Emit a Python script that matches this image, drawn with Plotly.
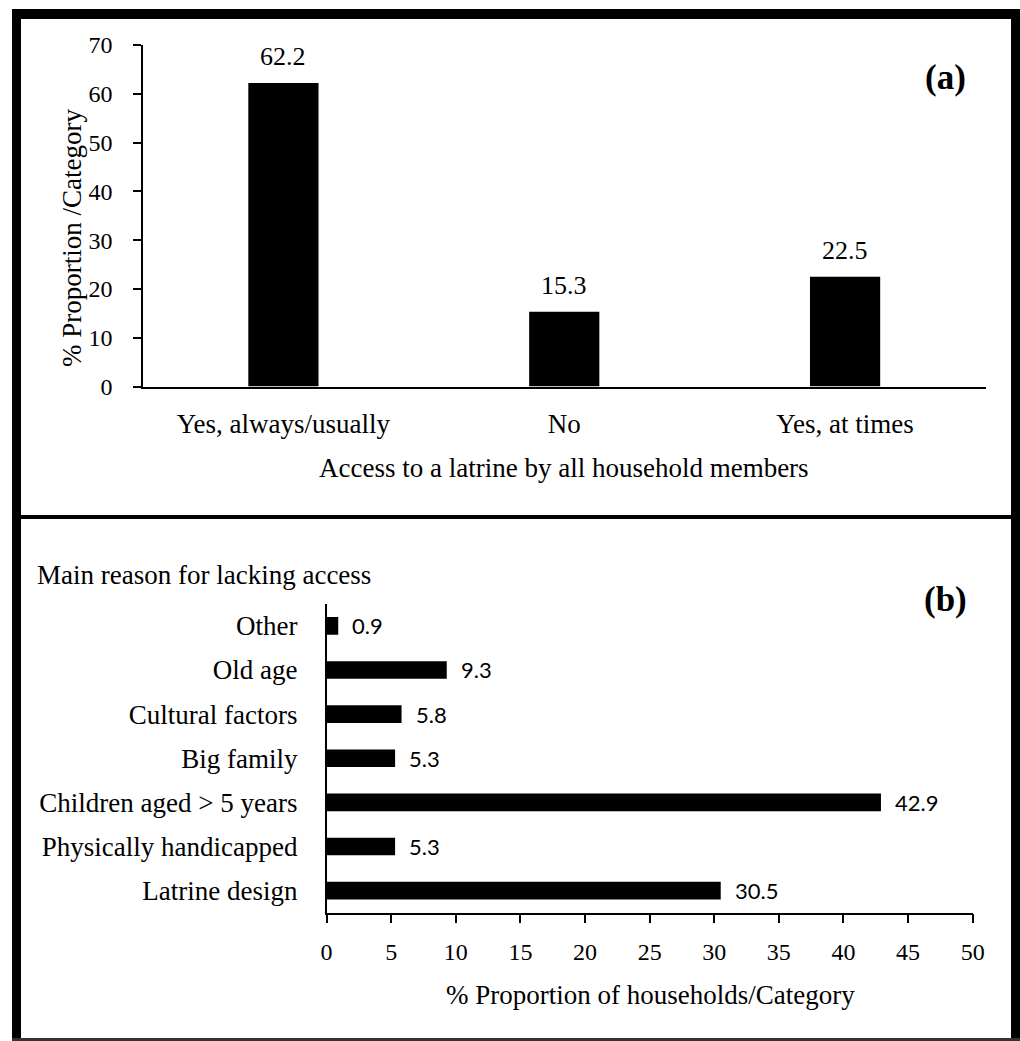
import plotly.graph_objects as go

W, H = 1020, 1041

# Panel (a) data
access_categories = ["Yes, always/usually", "No", "Yes, at times"]
access_values = [62.2, 15.3, 22.5]

# Panel (b) data (bottom to top)
reason_categories = ["Latrine design", "Physically handicapped", "Children aged > 5 years",
                     "Big family", "Cultural factors", "Old age", "Other"]
reason_values = [30.5, 5.3, 42.9, 5.3, 5.8, 9.3, 0.9]

y_ticks_a = [0, 10, 20, 30, 40, 50, 60, 70]
x_ticks_b = [0, 5, 10, 15, 20, 25, 30, 35, 40, 45, 50]

SERIF = "Liberation Serif"
SANS = "Lato"


def px(x):
    return x / W


def py(y):
    return 1 - y / H


fig = go.Figure()

fig.add_trace(go.Bar(
    x=access_categories, y=access_values, marker=dict(color="black", line=dict(width=0)),
    width=0.25, xaxis="x", yaxis="y", showlegend=False, hoverinfo="x+y"
))

fig.add_trace(go.Bar(
    x=reason_values, y=reason_categories, orientation="h",
    marker=dict(color="black", line=dict(width=0)),
    width=0.4, xaxis="x2", yaxis="y2", showlegend=False, hoverinfo="x+y"
))

annotations = []
for c, v in zip(access_categories, access_values):
    annotations.append(dict(x=c, y=v, xref="x", yref="y", text=f"{v:.1f}", showarrow=False,
                            xanchor="center", yanchor="bottom", yshift=10,
                            font=dict(family=SERIF, size=26, color="black")))
for c, v in zip(reason_categories, reason_values):
    annotations.append(dict(x=v, y=c, xref="x2", yref="y2", text=f"{v:.1f}", showarrow=False,
                            xanchor="left", yanchor="middle", xshift=12,
                            font=dict(family=SANS, size=22, color="black")))

annotations += [
    dict(x=px(72), y=py(238), xref="paper", yref="paper", text="% Proportion /Category",
         textangle=-90, showarrow=False, xanchor="center", yanchor="middle",
         font=dict(family=SERIF, size=27, color="black")),
    dict(x=px(564), y=py(468), xref="paper", yref="paper",
         text="Access to a latrine by all household members",
         showarrow=False, xanchor="center", yanchor="middle",
         font=dict(family=SERIF, size=27, color="black")),
    dict(x=px(945), y=py(77), xref="paper", yref="paper", text="<b>(a)</b>",
         showarrow=False, xanchor="center", yanchor="middle",
         font=dict(family=SERIF, size=35, color="black")),
    dict(x=px(945), y=py(599), xref="paper", yref="paper", text="<b>(b)</b>",
         showarrow=False, xanchor="center", yanchor="middle",
         font=dict(family=SERIF, size=35, color="black")),
    dict(x=px(35), y=py(575), xref="paper", yref="paper", text="Main reason for lacking access",
         xanchor="left", yanchor="middle", showarrow=False,
         font=dict(family=SERIF, size=27, color="black")),
    dict(x=px(650), y=py(995), xref="paper", yref="paper",
         text="% Proportion of households/Category",
         showarrow=False, xanchor="center", yanchor="middle",
         font=dict(family=SERIF, size=27, color="black")),
]

shapes = [
    # outer frame
    dict(type="rect", xref="paper", yref="paper", x0=px(12), x1=px(21), y0=py(1041), y1=py(9),
         fillcolor="black", line=dict(width=0)),
    dict(type="rect", xref="paper", yref="paper", x0=px(1011), x1=px(1020), y0=py(1041), y1=py(9),
         fillcolor="black", line=dict(width=0)),
    dict(type="rect", xref="paper", yref="paper", x0=px(12), x1=px(1020), y0=py(19), y1=py(9),
         fillcolor="black", line=dict(width=0)),
    dict(type="rect", xref="paper", yref="paper", x0=px(12), x1=px(1020), y0=py(1041), y1=py(1038),
         fillcolor="#333333", line=dict(width=0)),
    # divider
    dict(type="rect", xref="paper", yref="paper", x0=px(21), x1=px(1011), y0=py(519), y1=py(515),
         fillcolor="black", line=dict(width=0)),
]

fig.update_layout(
    template="none",
    width=W, height=H,
    margin=dict(l=0, r=0, t=0, b=0, autoexpand=False),
    paper_bgcolor="white", plot_bgcolor="white",
    bargap=0.5,
    xaxis=dict(domain=[px(143), px(985.5)], anchor="y", type="category", automargin=False,
               showline=True, linecolor="black", linewidth=1.5, ticks="",
               showgrid=False, zeroline=False, ticklabelstandoff=12,
               tickfont=dict(family=SERIF, size=27, color="black")),
    yaxis=dict(domain=[py(386.5), py(45)], anchor="x", range=[0, 70], automargin=False,
               tickmode="array", tickvals=y_ticks_a,
               showline=True, linecolor="black", linewidth=1.5, ticks="outside", ticklen=8,
               tickcolor="black", tickwidth=1.5, showgrid=False, zeroline=False,
               ticklabelstandoff=16,
               tickfont=dict(family=SERIF, size=24, color="black")),
    xaxis2=dict(domain=[px(326.6), px(972.7)], anchor="y2", range=[0, 50], automargin=False,
                tickmode="array", tickvals=x_ticks_b,
                showline=True, linecolor="black", linewidth=1.5, ticks="outside", ticklen=9,
                tickcolor="black", tickwidth=1.5, showgrid=False, zeroline=False,
                ticklabelstandoff=8,
                tickfont=dict(family=SERIF, size=24, color="black")),
    yaxis2=dict(domain=[py(912.7), py(603.8)], anchor="x2", type="category", automargin=False,
                showline=True, linecolor="black", linewidth=1.5, ticks="",
                showgrid=False, zeroline=False, ticklabelstandoff=22,
                tickfont=dict(family=SERIF, size=27, color="black")),
    annotations=annotations,
    shapes=shapes,
)

fig.write_html(
    "out.html",
    config={"displayModeBar": False},
    post_script="document.body.style.margin='0';document.body.style.padding='0';"
                "document.documentElement.style.overflow='hidden';",
)
